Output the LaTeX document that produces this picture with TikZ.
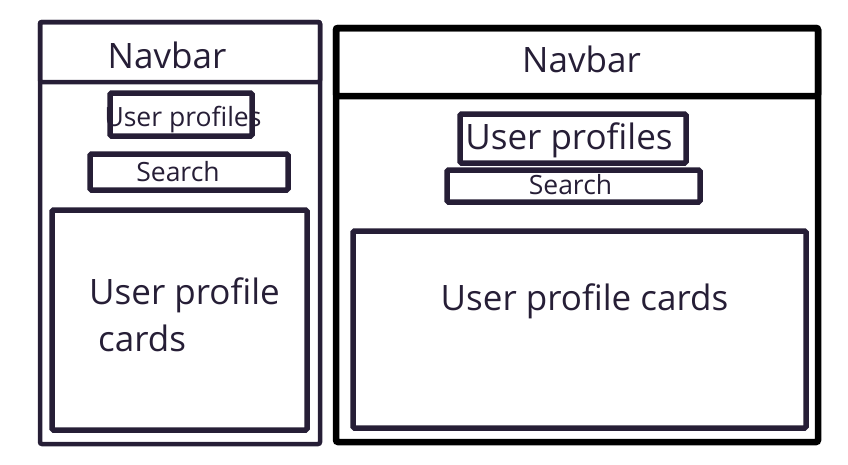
\documentclass[tikz,border=0pt]{standalone}
\usepackage{fontspec}
\setmainfont{Open Sans}
\definecolor{ink}{HTML}{261E36}

\begin{document}
\begin{tikzpicture}[x=1pt,y=-1pt]
  \tikzstyle{frame}=[draw=ink,line width=4.5pt,rounded corners=2pt,inner sep=0pt]
  \tikzstyle{heavy frame}=[frame,draw=black,line width=6.5pt]
  \tikzstyle{box}=[draw=ink,line width=5.5pt,rounded corners=1.5pt,inner sep=0pt]
  \tikzstyle{big label}=[inner sep=0pt,anchor=base,text=ink,font=\fontsize{35}{42}\selectfont]
  \tikzstyle{small label}=[big label,font=\fontsize{26.5}{32}\selectfont]

  \useasboundingbox (0,0) rectangle (848,464);

  % Draw the narrow layout
  \node[frame,minimum width=280,minimum height=422] (phoneL) at (180,233) {};
  \node[frame,minimum width=280,minimum height=60] (navL) at (180,52) {};
  \node[box,minimum width=142,minimum height=43] (upL) at (181,114.5) {};
  \node[box,minimum width=198,minimum height=36] (searchL) at (189,172) {};
  \node[box,minimum width=255,minimum height=220] (cardsL) at (179.5,320) {};

  % Labels of the narrow layout
  \node[big label] (navLtxt) at (167,68) {Navbar};
  \node[small label] (upLtxt) at (183,126.5) {User profiles};
  \node[small label] (searchLtxt) at (178,181.5) {Search};
  \node[big label,anchor=base west] (cardsLtxt) at (89,304) {User profile};
  \node[big label,anchor=base west] (cardsLtxt2) at (98,351.5) {cards};

  % Draw the wide layout
  \node[heavy frame,minimum width=482,minimum height=414] (phoneR) at (577,235) {};
  \node[heavy frame,minimum width=482,minimum height=68] (navR) at (577,62) {};
  \node[box,minimum width=226,minimum height=49] (upR) at (573,138.5) {};
  \node[box,minimum width=253,minimum height=32] (searchR) at (573.5,186) {};
  \node[box,minimum width=453,minimum height=197] (cardsR) at (579.5,329.5) {};

  % Labels of the wide layout
  \node[big label] (navRtxt) at (581.5,72.5) {Navbar};
  \node[big label] (upRtxt) at (569,149.3) {User profiles};
  \node[small label] (searchRtxt) at (570.5,194) {Search};
  \node[big label] (cardsRtxt) at (584.5,310.7) {User profile cards};
\end{tikzpicture}
\end{document}
